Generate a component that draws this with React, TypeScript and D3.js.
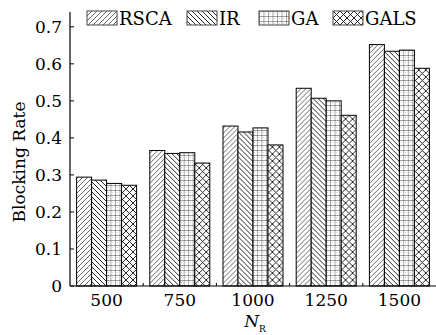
import * as d3 from 'd3';

const categories = ['500', '750', '1000', '1250', '1500'];
const seriesNames = ['RSCA', 'IR', 'GA', 'GALS'];
const rsca = [0.294, 0.366, 0.432, 0.534, 0.652];
const ir = [0.286, 0.358, 0.416, 0.507, 0.634];
const ga = [0.277, 0.36, 0.427, 0.5, 0.637];
const gals = [0.272, 0.332, 0.381, 0.461, 0.588];
const yTicks = [0, 0.1, 0.2, 0.3, 0.4, 0.5, 0.6, 0.7];

const seriesValues = [rsca, ir, ga, gals];
const patternIds = ['pat-rsca', 'pat-ir', 'pat-ga', 'pat-gals'];
const legendX = [87, 187, 259, 333];

const FONT = '"DejaVu Serif", "Liberation Serif", serif';

function App() {
  const width = 436;
  const height = 335;
  const left = 70;
  const right = 436;
  const bottom = 286;

  const y = d3.scaleLinear().domain([0, 0.74]).range([bottom, 12]);
  const x0 = d3.scaleBand().domain(categories).range([left, right]).padding(0);
  const x1 = d3
    .scaleBand()
    .domain(seriesNames)
    .range([0, x0.bandwidth()])
    .paddingInner(0)
    .paddingOuter(0.44);

  const fmt = (v: number) => (v === 0 ? '0' : d3.format('.1f')(v));

  return (
    <svg
      width={width}
      height={height}
      style={{ position: 'absolute', left: 0, top: 0, background: '#fff' }}
      fontFamily={FONT}
    >
      <defs>
        <pattern id="pat-rsca" patternUnits="userSpaceOnUse" width="5" height="5">
          <rect width="5" height="5" fill="#fff" />
          <path d="M-1,6 L6,-1 M-1,1 L1,-1 M4,6 L6,4" stroke="#444" strokeWidth="0.8" />
        </pattern>
        <pattern id="pat-ir" patternUnits="userSpaceOnUse" width="5" height="5">
          <rect width="5" height="5" fill="#fff" />
          <path d="M-1,-1 L6,6 M-1,4 L1,6 M4,-1 L6,1" stroke="#111" strokeWidth="0.9" />
        </pattern>
        <pattern id="pat-ga" patternUnits="userSpaceOnUse" width="4.5" height="5">
          <rect width="4.5" height="5" fill="#fff" />
          <path d="M0,0 L4.5,0 M0,0 L0,5" stroke="#222" strokeWidth="0.8" />
          <rect x="2" y="2.3" width="0.6" height="0.6" fill="#666" />
        </pattern>
        <pattern id="pat-gals" patternUnits="userSpaceOnUse" width="7" height="7">
          <rect width="7" height="7" fill="#fff" />
          <path d="M0,0 L7,7 M7,0 L0,7 M-1,6 L1,8 M6,-1 L8,1 M-1,1 L1,-1 M6,8 L8,6" stroke="#111" strokeWidth="0.9" />
        </pattern>
      </defs>

      {/* bars */}
      {categories.map((cat, ci) => (
        <g key={cat} transform={`translate(${x0(cat)},0)`}>
          {seriesNames.map((name, si) => {
            const v = seriesValues[si][ci];
            return (
              <rect
                key={name}
                x={x1(name)}
                y={y(v)}
                width={x1.bandwidth()}
                height={bottom - y(v)}
                fill={`url(#${patternIds[si]})`}
                stroke="#000"
                strokeWidth="1"
              />
            );
          })}
        </g>
      ))}

      {/* y axis */}
      <line x1={left} x2={left} y1={y(0)} y2={y(0.74)} stroke="#000" strokeWidth="1.2" />
      {yTicks.map((t) => (
        <g key={t} transform={`translate(${left},${y(t)})`}>
          <line x1="0" x2="4" stroke="#000" strokeWidth="1" />
          <text x="-8" dy="0.35em" textAnchor="end" fontSize="17" fill="#000">
            {fmt(t)}
          </text>
        </g>
      ))}

      {/* x axis */}
      <line x1={left} x2={right} y1={bottom} y2={bottom} stroke="#000" strokeWidth="1.2" />
      {categories.slice(1).map((cat) => (
        <line key={cat} x1={x0(cat)} x2={x0(cat)} y1={bottom} y2={bottom - 3} stroke="#000" strokeWidth="1" />
      ))}
      {categories.map((cat) => (
        <text
          key={cat}
          x={(x0(cat) ?? 0) + x0.bandwidth() / 2}
          y={306}
          textAnchor="middle"
          fontSize="17"
          fill="#000"
        >
          {cat}
        </text>
      ))}

      {/* axis titles */}
      <text transform="translate(25,162) rotate(-90)" textAnchor="middle" fontSize="17" fill="#000">
        Blocking Rate
      </text>
      <text x={255} y={327} textAnchor="middle" fontSize="17" fontStyle="italic" fill="#000">
        N
        <tspan fontSize="9" fontStyle="normal" dy="5">
          R
        </tspan>
      </text>

      {/* legend */}
      {seriesNames.map((name, i) => (
        <g key={name} transform={`translate(${legendX[i]},11)`}>
          <rect width="30" height="14" fill={`url(#${patternIds[i]})`} stroke="#444" strokeWidth="1" />
          <text x="32" y="13.5" fontSize="18" fill="#000">
            {name}
          </text>
        </g>
      ))}
    </svg>
  );
}

export default App;
